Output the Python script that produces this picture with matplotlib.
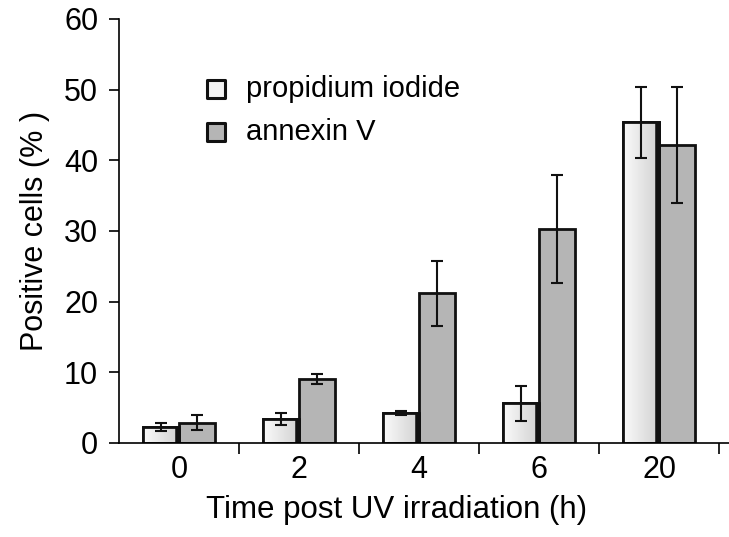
import numpy as np
import matplotlib.pyplot as plt
from matplotlib.colors import LinearSegmentedColormap

plt.rcParams['font.family'] = ['Liberation Sans', 'DejaVu Sans']

groups = ['0', '2', '4', '6', '20']
pi_vals = [2.3, 3.4, 4.2, 5.6, 45.4]
pi_err = [0.6, 0.8, 0.3, 2.5, 5.0]
annexin_vals = [2.9, 9.0, 21.2, 30.3, 42.2]
annexin_err = [1.1, 0.7, 4.6, 7.6, 8.2]

fig = plt.figure(figsize=(7.29, 5.37), dpi=100)
ax = fig.add_axes([119 / 729, 1 - 443 / 537, 610 / 729, 424 / 537])

x = np.arange(len(groups))
w = 0.3
grad = np.linspace(0, 1, 256).reshape(1, -1)
cmap = LinearSegmentedColormap.from_list('g', ['#fbfbfb', '#d0d0d0'])

# propidium iodide bars with light gradient
pi_bars = ax.bar(x - w / 2, pi_vals, w, color='#e8e8e8', edgecolor='#111111', linewidth=2, zorder=2)
for b in pi_bars:
    bx, by = b.get_x(), b.get_y()
    im = ax.imshow(grad, cmap=cmap, extent=[bx, bx + b.get_width(), by, by + b.get_height()],
                   aspect='auto', zorder=2.1)
    im.set_clip_path(b)
    # dark shadow on right side
    ax.plot([bx + b.get_width() * 0.96] * 2, [by, by + b.get_height()], color='#111111', lw=4, zorder=2.2,
            solid_capstyle='butt')
    ax.bar(bx, b.get_height(), b.get_width(), align='edge', facecolor='none', edgecolor='#111111',
           linewidth=2, zorder=2.3)

ax.bar(x + w / 2, annexin_vals, w, color='#b5b5b5', edgecolor='#111111', linewidth=2, zorder=2)

ax.errorbar(x - w / 2, pi_vals, yerr=pi_err, fmt='none', ecolor='#111111', elinewidth=1.5, capsize=4.5,
            capthick=1.5, zorder=3)
ax.errorbar(x + w / 2, annexin_vals, yerr=annexin_err, fmt='none', ecolor='#111111', elinewidth=1.5,
            capsize=4.5, capthick=1.5, zorder=3)

ax.set_xlim(-0.5, 4.58)
ax.set_ylim(0, 60)
ax.set_yticks(range(0, 61, 10))
ax.set_xticks(x, groups)
ax.set_xticks(np.arange(0.5, 4.6, 1), minor=True)
ax.tick_params(axis='x', which='major', length=0, pad=9, labelsize=22)
ax.tick_params(axis='x', which='minor', length=8, width=1.2, direction='out')
ax.tick_params(axis='y', length=7, width=1.2, direction='out', labelsize=22, pad=8)
for s in ['top', 'right']:
    ax.spines[s].set_visible(False)
ax.spines['left'].set_linewidth(1.2)
ax.spines['bottom'].set_linewidth(1.2)

ax.set_xlabel('Time post UV irradiation (h)', fontsize=22.5, labelpad=7, x=0.455)
ax.set_ylabel('Positive cells (% )', fontsize=22, labelpad=10)

# legend
ax.scatter([0.31], [50.1], marker='s', s=170, facecolor='#f4f4f4', edgecolor='#111111', linewidth=2.2, zorder=4)
ax.scatter([0.31], [44.0], marker='s', s=170, facecolor='#b5b5b5', edgecolor='#111111', linewidth=2.2, zorder=4)
ax.text(0.56, 50.1, 'propidium iodide', fontsize=21, va='center')
ax.text(0.56, 44.0, 'annexin V', fontsize=21, va='center')

fig.savefig('out.png', dpi=100)
